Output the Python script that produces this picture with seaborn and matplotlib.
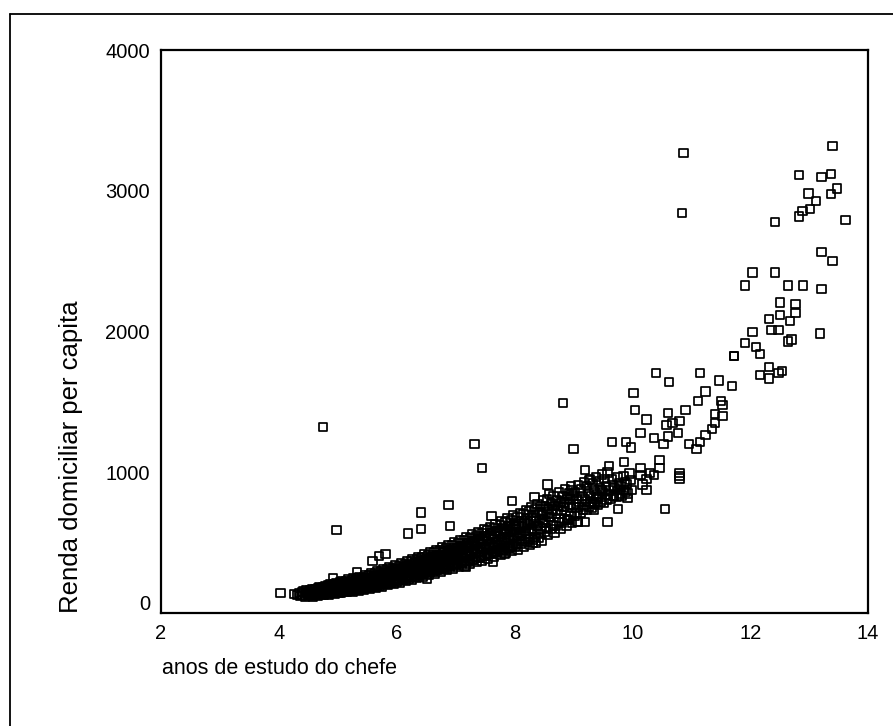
import matplotlib
matplotlib.use("Agg")
import matplotlib.pyplot as plt
import matplotlib.transforms as mtrans
from matplotlib.lines import Line2D
import seaborn as sns
import pandas as pd

# ---- data ----
# dense band (anos de estudo do chefe, renda domiciliar per capita)
anos_faixa = [
    4.31, 4.34, 4.37, 4.39,
    4.40, 4.42, 4.44, 4.46, 4.47, 4.49,
    4.50, 4.51, 4.53, 4.54, 4.56, 4.57, 4.58, 4.59,
    4.60, 4.61, 4.62, 4.64, 4.65, 4.66, 4.67, 4.68, 4.69, 4.69,
    4.70, 4.71, 4.72, 4.73, 4.74, 4.75, 4.76, 4.77, 4.78, 4.79, 4.79, 4.72,
    4.80, 4.81, 4.81, 4.82, 4.83, 4.84, 4.85, 4.86, 4.86, 4.87, 4.88, 4.89, 4.89, 4.84,
    4.90, 4.91, 4.92, 4.92, 4.93, 4.94, 4.95, 4.95, 4.96, 4.97, 4.98, 4.98, 4.99, 4.93,
    5.00, 5.01, 5.01, 5.02, 5.03, 5.04, 5.05, 5.06, 5.06, 5.07, 5.08, 5.09, 5.09, 5.04,
    5.10, 5.10, 5.12, 5.12, 5.13, 5.14, 5.15, 5.15, 5.17, 5.17, 5.18, 5.19, 5.19, 5.13,
    5.20, 5.21, 5.21, 5.22, 5.23, 5.24, 5.25, 5.26, 5.26, 5.27, 5.28, 5.29, 5.29, 5.24,
    5.30, 5.31, 5.32, 5.32, 5.33, 5.34, 5.35, 5.35, 5.36, 5.37, 5.38, 5.38, 5.39, 5.33,
    5.40, 5.41, 5.41, 5.42, 5.43, 5.44, 5.45, 5.46, 5.46, 5.47, 5.48, 5.49, 5.49, 5.44,
    5.50, 5.50, 5.52, 5.52, 5.53, 5.54, 5.55, 5.55, 5.57, 5.57, 5.58, 5.59, 5.59, 5.53,
    5.60, 5.61, 5.61, 5.62, 5.63, 5.64, 5.65, 5.66, 5.66, 5.67, 5.68, 5.69, 5.69, 5.64,
    5.70, 5.71, 5.72, 5.72, 5.73, 5.74, 5.75, 5.75, 5.76, 5.77, 5.78, 5.78, 5.79, 5.73,
    5.80, 5.81, 5.81, 5.82, 5.83, 5.84, 5.85, 5.86, 5.86, 5.87, 5.88, 5.89, 5.89, 5.84,
    5.90, 5.90, 5.92, 5.92, 5.93, 5.94, 5.95, 5.95, 5.97, 5.97, 5.98, 5.99, 5.99, 5.93,
    6.00, 6.01, 6.01, 6.02, 6.03, 6.04, 6.05, 6.06, 6.06, 6.07, 6.08, 6.09, 6.09, 6.04,
    6.10, 6.11, 6.12, 6.12, 6.13, 6.14, 6.15, 6.15, 6.16, 6.17, 6.18, 6.18, 6.19, 6.13,
    6.20, 6.21, 6.21, 6.22, 6.23, 6.24, 6.25, 6.26, 6.26, 6.27, 6.28, 6.29, 6.29, 6.24,
    6.30, 6.30, 6.32, 6.32, 6.33, 6.34, 6.35, 6.35, 6.37, 6.37, 6.38, 6.39, 6.39, 6.33,
    6.40, 6.41, 6.41, 6.42, 6.43, 6.44, 6.45, 6.46, 6.46, 6.47, 6.48, 6.49, 6.49, 6.44,
    6.50, 6.51, 6.52, 6.52, 6.53, 6.54, 6.55, 6.55, 6.56, 6.57, 6.58, 6.58, 6.59, 6.53,
    6.60, 6.61, 6.61, 6.62, 6.63, 6.64, 6.65, 6.66, 6.66, 6.67, 6.68, 6.69, 6.69, 6.64,
    6.70, 6.70, 6.72, 6.72, 6.73, 6.74, 6.75, 6.75, 6.77, 6.77, 6.78, 6.79, 6.79, 6.73,
    6.80, 6.81, 6.81, 6.82, 6.83, 6.84, 6.85, 6.86, 6.86, 6.87, 6.88, 6.89, 6.89, 6.84,
    6.90, 6.91, 6.92, 6.92, 6.93, 6.94, 6.95, 6.95, 6.96, 6.97, 6.98, 6.98, 6.99, 6.93,
    7.00, 7.01, 7.02, 7.03, 7.04, 7.05, 7.05, 7.06, 7.07, 7.08, 7.09, 7.09, 7.03,
    7.10, 7.11, 7.12, 7.13, 7.14, 7.14, 7.15, 7.16, 7.17, 7.18, 7.18, 7.19, 7.12,
    7.20, 7.21, 7.22, 7.23, 7.24, 7.25, 7.25, 7.26, 7.27, 7.28, 7.29, 7.29, 7.23,
    7.30, 7.30, 7.32, 7.33, 7.34, 7.35, 7.36, 7.36, 7.37, 7.38, 7.39, 7.39, 7.32,
    7.40, 7.41, 7.42, 7.43, 7.44, 7.45, 7.45, 7.46, 7.47, 7.48, 7.49, 7.49, 7.43,
    7.50, 7.51, 7.52, 7.53, 7.54, 7.54, 7.55, 7.56, 7.57, 7.58, 7.58, 7.59, 7.52,
    7.60, 7.61, 7.62, 7.63, 7.64, 7.65, 7.65, 7.66, 7.67, 7.68, 7.69, 7.69, 7.63,
    7.70, 7.70, 7.72, 7.73, 7.74, 7.75, 7.76, 7.76, 7.77, 7.78, 7.79, 7.79, 7.72,
    7.80, 7.81, 7.82, 7.83, 7.84, 7.85, 7.85, 7.86, 7.87, 7.88, 7.89, 7.89, 7.83,
    7.90, 7.91, 7.92, 7.93, 7.94, 7.94, 7.95, 7.96, 7.97, 7.98, 7.98, 7.99, 7.92,
    8.00, 8.01, 8.02, 8.03, 8.04, 8.05, 8.06, 8.07, 8.08, 8.09, 8.04,
    8.10, 8.11, 8.12, 8.13, 8.14, 8.15, 8.16, 8.17, 8.18, 8.19, 8.13,
    8.20, 8.21, 8.22, 8.23, 8.24, 8.25, 8.26, 8.27, 8.28, 8.29, 8.24,
    8.30, 8.31, 8.32, 8.33, 8.34, 8.35, 8.36, 8.37, 8.38, 8.39, 8.33,
    8.40, 8.41, 8.42, 8.43, 8.44, 8.45, 8.46, 8.47, 8.48, 8.49, 8.44,
    8.50, 8.51, 8.52, 8.53, 8.54, 8.55, 8.56, 8.57, 8.58, 8.59, 8.53,
    8.60, 8.61, 8.62, 8.64, 8.65, 8.66, 8.68, 8.69, 8.63,
    8.70, 8.71, 8.72, 8.74, 8.75, 8.76, 8.78, 8.79, 8.73,
    8.80, 8.81, 8.82, 8.84, 8.85, 8.86, 8.88, 8.89, 8.83,
    8.90, 8.91, 8.92, 8.94, 8.95, 8.96, 8.98, 8.99, 8.93,
    9.00, 9.02, 9.03, 9.05, 9.06, 9.08, 9.09,
    9.10, 9.12, 9.13, 9.15, 9.16, 9.18, 9.19,
    9.20, 9.22, 9.23, 9.25, 9.26, 9.28, 9.29,
    9.30, 9.32, 9.33, 9.35, 9.36, 9.38, 9.39,
    9.40, 9.42, 9.43, 9.45, 9.46, 9.48, 9.49,
    9.50, 9.52, 9.53, 9.55, 9.56, 9.58, 9.59,
    9.60, 9.63, 9.65, 9.67, 9.69,
    9.70, 9.73, 9.75, 9.77, 9.79,
    9.80, 9.83, 9.85, 9.87, 9.89,
    9.90, 9.93, 9.95, 9.97, 9.99,
]
renda_faixa = [
    128, 142, 121, 150,
    131, 152, 118, 144, 160, 126,
    140, 122, 165, 150, 131, 171, 118, 147,
    146, 128, 170, 155, 137, 178, 124, 160, 141, 186,
    150, 131, 176, 162, 139, 185, 128, 169, 154, 190, 143, 160,
    158, 136, 183, 170, 145, 196, 130, 175, 160, 205, 142, 188, 151, 166,
    165, 141, 192, 178, 150, 206, 138, 184, 168, 215, 149, 197, 158, 173,
    172, 146, 201, 187, 156, 218, 142, 194, 176, 228, 155, 209, 165, 182,
    179, 151, 210, 195, 161, 226, 148, 202, 183, 237, 160, 217, 171, 190,
    186, 157, 219, 203, 167, 236, 152, 211, 191, 248, 166, 226, 178, 198,
    194, 163, 228, 212, 174, 246, 158, 220, 199, 258, 172, 236, 186, 206,
    202, 170, 238, 221, 181, 257, 165, 230, 208, 270, 179, 246, 194, 215,
    212, 178, 249, 232, 190, 269, 172, 241, 218, 282, 188, 258, 204, 226,
    221, 186, 260, 242, 198, 281, 180, 252, 228, 295, 196, 270, 213, 236,
    232, 195, 272, 254, 208, 294, 189, 264, 239, 308, 206, 282, 223, 247,
    243, 205, 285, 266, 218, 308, 198, 277, 251, 323, 216, 296, 234, 259,
    254, 214, 297, 278, 228, 321, 207, 289, 262, 337, 226, 309, 245, 270,
    265, 224, 310, 290, 238, 335, 216, 302, 273, 352, 236, 322, 256, 282,
    277, 234, 323, 303, 249, 349, 226, 315, 285, 366, 247, 336, 267, 294,
    289, 245, 338, 316, 260, 365, 236, 329, 298, 383, 258, 351, 279, 307,
    302, 256, 352, 330, 272, 380, 247, 343, 311, 398, 270, 366, 291, 320,
    315, 268, 367, 344, 284, 396, 258, 358, 325, 415, 282, 382, 304, 334,
    329, 280, 382, 358, 296, 412, 270, 373, 339, 431, 294, 397, 317, 348,
    342, 292, 398, 373, 308, 429, 281, 388, 353, 449, 306, 413, 330, 362,
    356, 304, 413, 388, 321, 445, 293, 403, 367, 466, 319, 429, 343, 376,
    370, 317, 430, 403, 334, 463, 305, 419, 382, 485, 332, 446, 357, 391,
    384, 330, 445, 418, 347, 479, 317, 434, 396, 502, 345, 462, 370, 405,
    398, 340, 462, 432, 357, 497, 327, 449, 410, 520, 355, 478, 382,
    412, 352, 478, 447, 370, 514, 338, 465, 425, 538, 368, 495, 396,
    427, 365, 495, 463, 383, 532, 350, 481, 440, 557, 381, 512, 410,
    441, 377, 511, 478, 396, 549, 362, 497, 454, 575, 394, 529, 424,
    455, 390, 528, 494, 409, 567, 374, 513, 469, 594, 407, 546, 438,
    471, 404, 545, 510, 423, 585, 387, 530, 485, 613, 421, 564, 453,
    487, 418, 564, 528, 438, 605, 400, 548, 502, 634, 436, 583, 469,
    503, 432, 581, 544, 452, 623, 413, 565, 518, 653, 450, 601, 484,
    518, 445, 599, 561, 466, 642, 426, 582, 534, 673, 464, 619, 499,
    534, 459, 616, 577, 480, 660, 439, 599, 550, 692, 478, 637, 514,
    549, 472, 634, 594, 494, 679, 452, 616, 565, 712, 530,
    567, 488, 653, 612, 510, 699, 467, 635, 583, 733, 547,
    584, 503, 673, 631, 526, 720, 481, 654, 601, 755, 564,
    601, 519, 692, 649, 542, 740, 496, 673, 619, 776, 581,
    620, 535, 713, 669, 559, 762, 511, 694, 638, 800, 599,
    664, 578, 759, 715, 603, 809, 555, 740, 683, 846, 643,
    683, 595, 780, 736, 621, 832, 572, 760, 703,
    707, 619, 805, 761, 645, 857, 596, 785, 728,
    731, 643, 830, 786, 669, 882, 620, 810, 752,
    751, 663, 850, 806, 689, 902, 640, 830, 772,
    772, 690, 860, 812, 715, 908, 752,
    792, 710, 880, 832, 735, 928, 770,
    812, 730, 900, 852, 756, 948, 790,
    832, 750, 920, 872, 776, 968, 810,
    847, 765, 935, 887, 791, 983, 825,
    862, 780, 950, 902, 806, 998, 840,
    875, 810, 950, 905, 835,
    890, 822, 965, 920, 850,
    900, 835, 975, 930, 862,
    915, 848, 990, 945, 875,
]

# scattered points outside the dense band
anos_dispersos = [
    4.03, 4.26, 4.92, 4.98, 4.75, 5.33, 5.59, 5.81, 6.19, 6.41, 6.41, 6.88,
    6.91, 7.61, 7.96, 8.34, 7.32, 7.45, 7.83, 7.64, 8.31, 8.56, 8.97, 8.91,
    9.07, 8.82, 9.00, 6.52, 7.18, 5.70,
    8.89, 9.08, 9.20, 9.58, 9.76, 10.55, 9.60, 9.20, 9.26, 9.35, 9.35, 9.42,
    9.48, 9.67, 9.76, 9.86, 9.86, 9.92, 10.17, 10.24, 10.14, 10.14, 10.24,
    10.30, 10.37, 10.46, 10.46, 10.80, 10.80, 10.80, 9.66, 9.89, 9.98,
    10.02, 10.05, 10.14, 10.24, 10.37, 10.53, 10.58, 10.61, 10.61, 10.68,
    10.77, 10.80, 10.90, 10.96, 11.09, 11.12, 11.15, 11.24, 11.24, 11.35,
    11.40, 11.40, 11.50, 11.53, 11.53,
    10.40, 10.62, 11.15, 11.47, 11.69, 11.72, 11.73, 11.91, 11.91, 12.04,
    12.04, 12.10, 12.17, 12.17, 12.32, 12.32, 12.32, 12.36, 12.42, 12.42,
    12.48, 12.48, 12.51, 12.51, 12.54, 12.64, 12.64, 12.68, 12.70, 12.77,
    12.77, 12.83, 12.83, 12.89, 12.90, 12.99, 13.01, 13.12, 13.18, 13.21,
    13.21, 13.21, 13.37, 13.37, 13.40, 13.40, 13.47, 13.62, 10.84, 10.87,
]
renda_dispersos = [
    142, 133, 249, 592, 1321, 293, 369, 421, 564, 595, 713, 765,
    620, 687, 798, 822, 1203, 1030, 421, 367, 500, 912, 874, 661,
    647, 1494, 1163, 240, 330, 405,
    666, 647, 647, 647, 739, 739, 1044, 1018, 945, 779, 732, 826,
    874, 831, 874, 872, 1071, 819, 912, 872, 979, 1030, 952,
    993, 979, 1030, 1085, 993, 975, 955, 1215, 1215, 1177,
    1561, 1440, 1281, 1374, 1241, 1203, 1336, 1419, 1255, 1348,
    1281, 1362, 1440, 1203, 1163, 1506, 1215, 1573, 1267, 1307,
    1414, 1348, 1506, 1480, 1400,
    1705, 1639, 1705, 1653, 1615, 1824, 1824, 1918, 2328, 1996,
    2418, 1890, 1838, 1693, 2089, 1746, 1665, 2011, 2418, 2778,
    2011, 1707, 2207, 2117, 1720, 2328, 1930, 2075, 1942, 2195,
    2131, 3110, 2816, 2858, 2328, 2980, 2870, 2925, 1985, 3096,
    2565, 2300, 3121, 2977, 3320, 2499, 3015, 2790, 2844, 3268,
]

x_ticks = [2, 4, 6, 8, 10, 12, 14]
y_ticks = [0, 1000, 2000, 3000, 4000]

df = pd.DataFrame({
    "anos": anos_faixa + anos_dispersos,
    "renda": renda_faixa + renda_dispersos,
})

# ---- style ----
sns.set_style("white")
plt.rcParams["font.family"] = ["Liberation Sans", "DejaVu Sans"]

W, H = 893, 726
fig = plt.figure(figsize=(W / 100, H / 100), dpi=100)
ax = fig.add_axes([161 / W, 1 - 613 / H, (868 - 161) / W, (613 - 50) / H])

sns.scatterplot(data=df, x="anos", y="renda", marker="s", s=36,
                linewidth=1.25, ax=ax, legend=False)
pts = ax.collections[0]
pts.set_facecolor("none")
pts.set_edgecolor("black")
pts.set_linewidth(1.25)

ax.set_xlim(2, 14)
ax.set_ylim(0, 4000)
ax.set_xticks(x_ticks)
ax.set_yticks(y_ticks)
ax.set_xticklabels([str(v) for v in x_ticks])
ax.set_yticklabels([str(v) for v in y_ticks])
ax.tick_params(axis="both", direction="out", length=3, width=2.6,
               color="#222222", labelsize=14.5, labelcolor="black", pad=5)
ax.set_xlabel("")
ax.set_ylabel("")
for sp in ax.spines.values():
    sp.set_visible(True)
    sp.set_color("black")
    sp.set_linewidth(1.6)

# the "0" label on the y axis sits slightly above its tick in the reference
zero_lbl = ax.get_yticklabels()[0]
zero_lbl.set_transform(zero_lbl.get_transform() +
                       mtrans.ScaledTranslation(0, 0.11, fig.dpi_scale_trans))

fig.text(162 / W, 1 - 668 / H, "anos de estudo do chefe", ha="left",
         va="center", fontsize=15.5, color="black")
fig.text(71 / W, 1 - 457 / H, "Renda domiciliar per capita", ha="center",
         va="center", rotation=90, fontsize=18.5, color="black")

# outer frame (top and left edges visible in the reference)
fig.add_artist(Line2D([10 / W, 1.0], [1 - 14 / H, 1 - 14 / H],
                      transform=fig.transFigure, color="black", lw=1.3))
fig.add_artist(Line2D([10 / W, 10 / W], [0.0, 1 - 14 / H],
                      transform=fig.transFigure, color="black", lw=1.3))

fig.savefig("out.png", dpi=100, facecolor="white")
